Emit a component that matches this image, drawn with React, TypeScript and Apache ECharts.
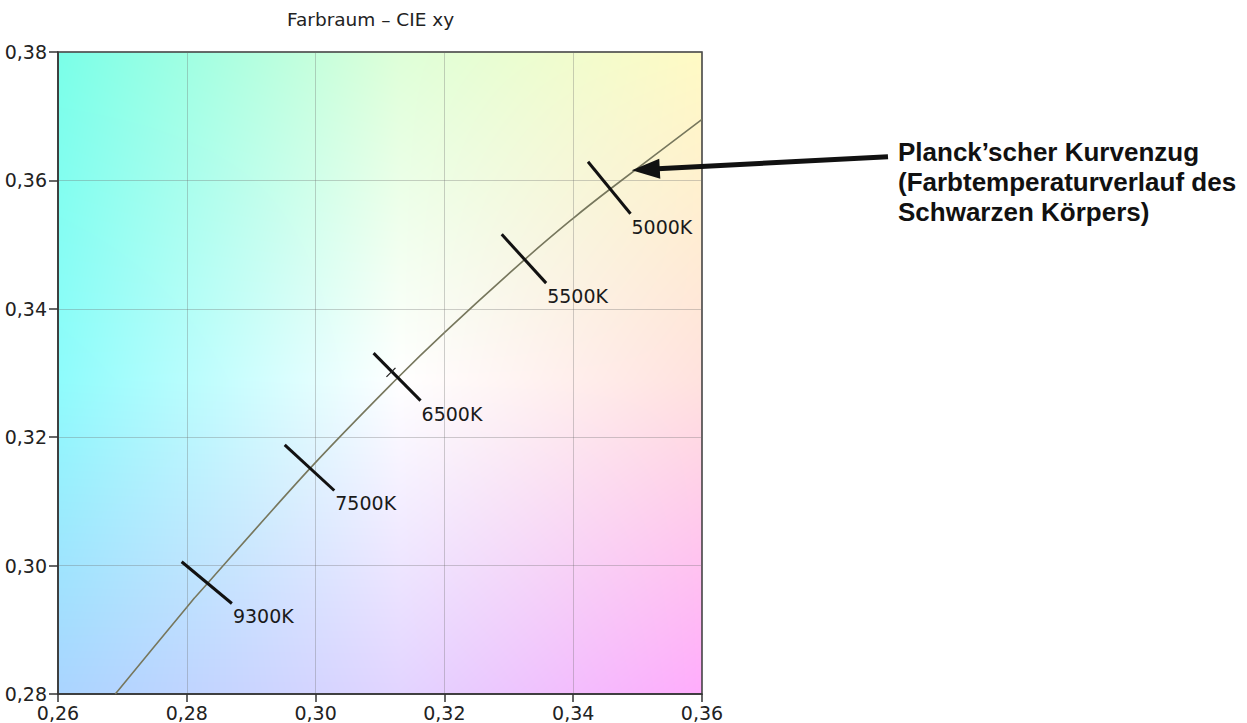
import React, { useEffect, useRef } from 'react';
import * as echarts from 'echarts';

// ---------- data ----------
const titleText = 'Farbraum – CIE xy';

const xMin = 0.26;
const xMax = 0.36;
const yMin = 0.28;
const yMax = 0.38;
const tickStep = 0.02;
const xTickLabels = ['0,26', '0,28', '0,30', '0,32', '0,34', '0,36'];
const yTickLabels = ['0,28', '0,30', '0,32', '0,34', '0,36', '0,38'];

// Planck locus (x, y chromaticity)
const locusX = [0.2689, 0.28, 0.2831, 0.2991, 0.3126, 0.32, 0.3325, 0.34, 0.3458, 0.36];
const locusY = [0.28, 0.2935, 0.2971, 0.3151, 0.3291, 0.3363, 0.3477, 0.3541, 0.3587, 0.3695];

// temperature tick marks (segment end points in chromaticity units)
const tempLabels = ['9300K', '7500K', '6500K', '5500K', '5000K'];
const tickStartX = [0.2792, 0.2952, 0.309, 0.3289, 0.3423];
const tickStartY = [0.3006, 0.3188, 0.3331, 0.3516, 0.3629];
const tickEndX = [0.287, 0.3029, 0.3163, 0.3358, 0.3489];
const tickEndY = [0.2941, 0.3117, 0.3257, 0.344, 0.3548];

// small white point mark near 6500K
const whiteMarkX = [0.311, 0.3124];
const whiteMarkY = [0.3294, 0.3308];

const annotationLines = ['Planck’scher Kurvenzug', '(Farbtemperaturverlauf des', 'Schwarzen Körpers)'];
const arrowTarget = [0.3491, 0.3616];

// ---------- background colour model (style) ----------
const bgCx = [0.26, 0.313, 0.36];
const bgCy = [0.28, 0.329, 0.38];
const bgColors = [
  [[170, 212, 255], [226, 212, 255], [255, 172, 252]],
  [[142, 252, 252], [255, 255, 255], [255, 226, 222]],
  [[122, 255, 232], [222, 255, 216], [255, 250, 196]],
];

function bgColor(x: number, y: number) {
  const ix = x < bgCx[1] ? 0 : 1;
  const iy = y < bgCy[1] ? 0 : 1;
  const tx = Math.min(1, Math.max(0, (x - bgCx[ix]) / (bgCx[ix + 1] - bgCx[ix])));
  const ty = Math.min(1, Math.max(0, (y - bgCy[iy]) / (bgCy[iy + 1] - bgCy[iy])));
  const c00 = bgColors[iy][ix];
  const c10 = bgColors[iy][ix + 1];
  const c01 = bgColors[iy + 1][ix];
  const c11 = bgColors[iy + 1][ix + 1];
  const out = [0, 0, 0];
  for (let k = 0; k < 3; k++) {
    const a = c00[k] * (1 - tx) + c10[k] * tx;
    const b = c01[k] * (1 - tx) + c11[k] * tx;
    out[k] = a * (1 - ty) + b * ty;
  }
  return out;
}

function makeBackground(w: number, h: number) {
  const c = document.createElement('canvas');
  c.width = w;
  c.height = h;
  const ctx = c.getContext('2d');
  if (!ctx) return '';
  const img = ctx.createImageData(w, h);
  for (let j = 0; j < h; j++) {
    const yv = yMax - (j / (h - 1)) * (yMax - yMin);
    for (let i = 0; i < w; i++) {
      const xv = xMin + (i / (w - 1)) * (xMax - xMin);
      const col = bgColor(xv, yv);
      const p = (j * w + i) * 4;
      img.data[p] = col[0];
      img.data[p + 1] = col[1];
      img.data[p + 2] = col[2];
      img.data[p + 3] = 255;
    }
  }
  ctx.putImageData(img, 0, 0);
  return c.toDataURL();
}

const FONT = '"DejaVu Sans", sans-serif';

export default function App() {
  const ref = useRef<HTMLDivElement>(null);

  useEffect(() => {
    if (!ref.current) return;
    const chart = echarts.init(ref.current, undefined, { renderer: 'svg' });

    const tickData = tempLabels.map((t, i) => [tickStartX[i], tickStartY[i], tickEndX[i], tickEndY[i]]);
    const n = locusX.length;

    chart.setOption({
      animation: false,
      title: {
        text: titleText,
        left: 287,
        top: 10,
        padding: 0,
        textStyle: { fontFamily: FONT, fontSize: 18.5, fontWeight: 'normal', color: '#222' },
      },
      grid: {
        left: 58,
        top: 52,
        width: 644,
        height: 642,
        show: true,
        borderColor: '#3a3a3a',
        borderWidth: 1.5,
        backgroundColor: 'transparent',
      },
      xAxis: {
        type: 'value',
        min: xMin,
        max: xMax,
        interval: tickStep,
        axisLine: { show: true, lineStyle: { color: '#333', width: 1.5 } },
        axisTick: { show: true, length: 8, lineStyle: { color: '#333', width: 1.5 } },
        axisLabel: {
          margin: 9,
          fontFamily: FONT,
          fontSize: 19,
          color: '#222',
          formatter: (v: number) => xTickLabels[Math.round((v - xMin) / tickStep)] ?? '',
        },
        splitLine: { show: true, lineStyle: { color: 'rgba(110,110,110,0.33)', width: 1 } },
      },
      yAxis: {
        type: 'value',
        min: yMin,
        max: yMax,
        interval: tickStep,
        axisLine: { show: true, lineStyle: { color: '#333', width: 1.5 } },
        axisTick: { show: true, length: 9, lineStyle: { color: '#333', width: 1.5 } },
        axisLabel: {
          margin: 11,
          fontFamily: FONT,
          fontSize: 19,
          color: '#222',
          formatter: (v: number) => yTickLabels[Math.round((v - yMin) / tickStep)] ?? '',
        },
        splitLine: { show: true, lineStyle: { color: 'rgba(110,110,110,0.33)', width: 1 } },
      },
      series: [
        {
          type: 'custom',
          name: 'Planck',
          data: locusX.map((x, i) => [x, locusY[i]]),
          encode: { x: 0, y: 1 },
          z: 3,
          renderItem: (params: any, api: any) => {
            const i = params.dataIndex;
            if (i >= n - 1) return null;
            const pt = (k: number) => {
              const kk = Math.max(0, Math.min(n - 1, k));
              return api.coord([locusX[kk], locusY[kk]]);
            };
            const p0 = pt(i - 1);
            const p1 = pt(i);
            const p2 = pt(i + 1);
            const p3 = pt(i + 2);
            // Catmull-Rom to Bezier
            const c1x = p1[0] + (p2[0] - p0[0]) / 6;
            const c1y = p1[1] + (p2[1] - p0[1]) / 6;
            const c2x = p2[0] - (p3[0] - p1[0]) / 6;
            const c2y = p2[1] - (p3[1] - p1[1]) / 6;
            return {
              type: 'bezierCurve',
              shape: {
                x1: p1[0], y1: p1[1],
                cpx1: c1x, cpy1: c1y,
                cpx2: c2x, cpy2: c2y,
                x2: p2[0], y2: p2[1],
              },
              style: { stroke: '#77775d', lineWidth: 1.6, fill: 'none' },
            };
          },
        },
        {
          type: 'custom',
          name: 'Temperaturen',
          data: tickData,
          encode: { x: [0, 2], y: [1, 3] },
          z: 4,
          renderItem: (params: any, api: any) => {
            const p1 = api.coord([api.value(0), api.value(1)]);
            const p2 = api.coord([api.value(2), api.value(3)]);
            return {
              type: 'group',
              children: [
                {
                  type: 'line',
                  shape: { x1: p1[0], y1: p1[1], x2: p2[0], y2: p2[1] },
                  style: { stroke: '#111', lineWidth: 3 },
                },
                {
                  type: 'text',
                  x: p2[0] + 1,
                  y: p2[1] + 13,
                  style: {
                    text: tempLabels[params.dataIndex],
                    fill: '#1a1a1a',
                    font: '19px ' + FONT,
                    align: 'left',
                    verticalAlign: 'middle',
                  },
                },
              ],
            };
          },
        },
        {
          type: 'custom',
          name: 'Weisspunkt',
          data: [[whiteMarkX[0], whiteMarkY[0], whiteMarkX[1], whiteMarkY[1]]],
          encode: { x: [0, 2], y: [1, 3] },
          z: 5,
          renderItem: (params: any, api: any) => {
            const p1 = api.coord([api.value(0), api.value(1)]);
            const p2 = api.coord([api.value(2), api.value(3)]);
            return {
              type: 'line',
              shape: { x1: p1[0], y1: p1[1], x2: p2[0], y2: p2[1] },
              style: { stroke: '#222', lineWidth: 1.3 },
            };
          },
        },
      ],
    });

    const tl = chart.convertToPixel({ gridIndex: 0 }, [xMin, yMax]) as number[];
    const br = chart.convertToPixel({ gridIndex: 0 }, [xMax, yMin]) as number[];
    const w = Math.round(br[0] - tl[0]);
    const h = Math.round(br[1] - tl[1]);
    const bgUrl = makeBackground(w, h);

    const tip = chart.convertToPixel({ gridIndex: 0 }, arrowTarget) as number[];
    const tail = [888, 156.7];
    const dx = tail[0] - tip[0];
    const dy = tail[1] - tip[1];
    const len = Math.sqrt(dx * dx + dy * dy);
    const ux = dx / len;
    const uy = dy / len;
    const headLen = 28;
    const headHalf = 10;
    const bx = tip[0] + ux * headLen;
    const by = tip[1] + uy * headLen;
    const nx = -uy;
    const ny = ux;

    chart.setOption({
      graphic: [
        {
          id: 'bg',
          type: 'image',
          z: -1,
          silent: true,
          style: { image: bgUrl, x: tl[0], y: tl[1], width: w, height: h },
        },
        {
          id: 'shaft',
          type: 'line',
          z: 10,
          shape: { x1: tail[0], y1: tail[1], x2: bx - ux * 2, y2: by - uy * 2 },
          style: { stroke: '#111', lineWidth: 5 },
        },
        {
          id: 'head',
          type: 'polygon',
          z: 10,
          shape: {
            points: [
              [tip[0], tip[1]],
              [bx + nx * headHalf, by + ny * headHalf],
              [bx - nx * headHalf, by - ny * headHalf],
            ],
          },
          style: { fill: '#111' },
        },
        {
          id: 'annotation',
          type: 'text',
          z: 10,
          x: 898,
          y: 137,
          style: {
            text: annotationLines.join('\n'),
            fill: '#111',
            font: 'bold 26px "Liberation Sans", Arial, sans-serif',
            lineHeight: 30,
            align: 'left',
            verticalAlign: 'top',
          },
        },
      ],
    });

    return () => chart.dispose();
  }, []);

  return (
    <div
      ref={ref}
      style={{ position: 'absolute', left: 0, top: 0, width: 1247, height: 723, background: '#fff' }}
    />
  );
}
